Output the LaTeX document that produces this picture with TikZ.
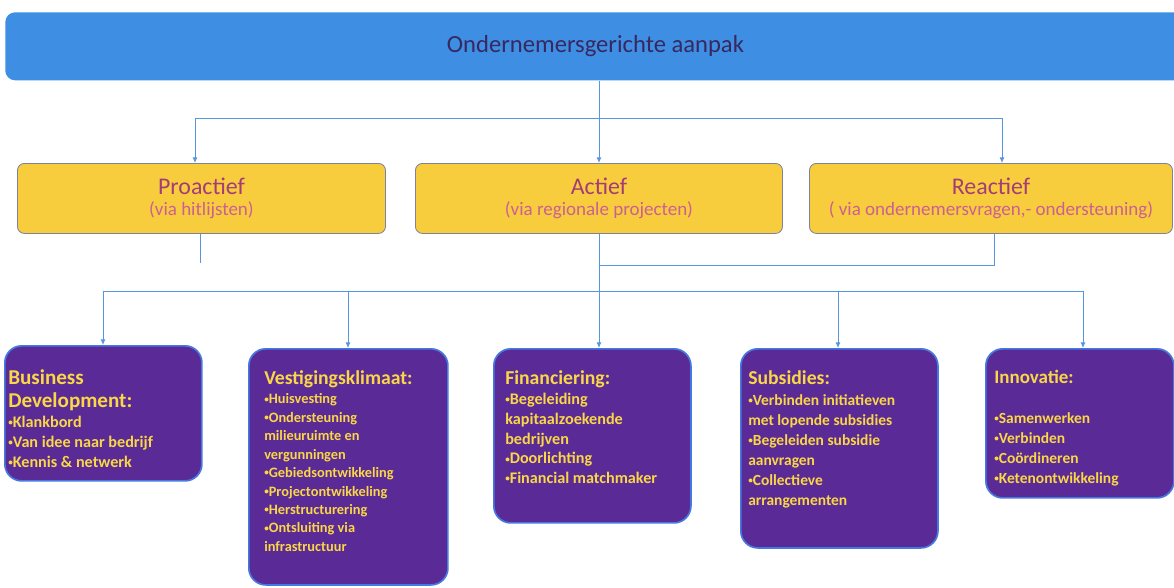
\documentclass[tikz,border=0pt]{standalone}
\usepackage{fontspec}
\setmainfont{Carlito}
\usetikzlibrary{arrows.meta, positioning}

\definecolor{barblue}{RGB}{62,143,228}
\definecolor{bartext}{RGB}{55,40,95}
\definecolor{ygold}{RGB}{247,205,62}
\definecolor{yedge}{RGB}{125,130,160}
\definecolor{ytitle}{RGB}{165,60,120}
\definecolor{ysub}{RGB}{205,95,145}
\definecolor{pfill}{RGB}{90,42,150}
\definecolor{pedge}{RGB}{70,120,225}
\definecolor{ptxt}{RGB}{250,215,70}
\definecolor{wireblue}{RGB}{85,150,220}

\newcommand\modetitle[1]{{\fontsize{17}{15.5}\selectfont\color{ytitle}#1}}
\newcommand\areatitle[2]{{\fontsize{#1}{14}\selectfont #2}}
\newcommand\bul{\raisebox{0.25ex}{\fontsize{6.5}{7}\selectfont\textbullet}}

\begin{document}
\begin{tikzpicture}[x=0.025cm, y=-0.025cm, >={Latex[length=4pt,width=3.5pt]},
        bar/.style={rectangle, fill=barblue, rounded corners=7pt, anchor=north west, minimum width=29.5cm, minimum height=1.7cm, text=bartext, font=\fontsize{17.5}{20}\selectfont},
        mode/.style={rectangle, draw=yedge, line width=0.6pt, fill=ygold, rounded corners=5pt, anchor=north west, minimum height=1.75cm, align=center, text=ysub, font=\fontsize{13.5}{15.5}\selectfont},
        area/.style={rectangle, draw=pedge, line width=1.2pt, fill=pfill, rounded corners=12pt, anchor=north west},
        areatext/.style={inner sep=0pt, align=left, text=ptxt, font=\bfseries\fontsize{11.5}{14.2}\selectfont},
        wire/.style={draw=wireblue, line width=0.6pt}]

        \useasboundingbox (0,0) rectangle (1174,587);

        % top level
        \node (top) [bar] at (5,12) {Ondernemersgerichte aanpak};

        % three ways of working
        \node (pro) [mode, minimum width=9.2cm] at (17,163) {\modetitle{Proactief}\\(via hitlijsten)};
        \node (act) [mode, minimum width=9.175cm] at (415,163) {\modetitle{Actief}\\(via regionale projecten)};
        \node (rea) [mode, minimum width=9.075cm] at (809,163) {\modetitle{Reactief}\\( via ondernemersvragen,- ondersteuning)};

        % themes
        \node (bd) [area, minimum width=4.925cm, minimum height=3.375cm] at (4,345) {};
        \node (vk) [area, minimum width=4.975cm, minimum height=5.9cm] at (248,348) {};
        \node (fin) [area, minimum width=4.925cm, minimum height=4.35cm] at (493,348) {};
        \node (sub) [area, minimum width=4.925cm, minimum height=4.975cm] at (740,348) {};
        \node (inn) [area, minimum width=4.7cm, minimum height=3.725cm] at (985,348) {};

        \node (bdtxt) [areatext, below right=0.6cm and 0.1cm of bd.north west]
            {\areatitle{15}{Business}\\[2.3pt]\areatitle{15}{Development:}\\\bul Klankbord\\\bul Van idee naar bedrijf\\\bul Kennis \& netwerk};
        \node (vktxt) [areatext, font=\bfseries\fontsize{10.2}{13.1}\selectfont, below right=0.55cm and 0.4cm of vk.north west]
            {\areatitle{14}{Vestigingsklimaat:}\\[1pt]\bul Huisvesting\\\bul Ondersteuning\\milieuruimte en\\vergunningen\\\bul Gebiedsontwikkeling\\\bul Projectontwikkeling\\\bul Herstructurering\\\bul Ontsluiting via\\infrastructuur};
        \node (fintxt) [areatext, below right=0.55cm and 0.3cm of fin.north west]
            {\areatitle{14}{Financiering:}\\\bul Begeleiding\\kapitaalzoekende\\bedrijven\\\bul Doorlichting\\\bul Financial matchmaker};
        \node (subtxt) [areatext, font=\bfseries\fontsize{11}{14.2}\selectfont, below right=0.55cm and 0.2cm of sub.north west]
            {\areatitle{14}{Subsidies:}\\[1pt]\bul Verbinden initiatieven\\met lopende subsidies\\\bul Begeleiden subsidie\\aanvragen\\\bul Collectieve\\arrangementen};
        \node (inntxt) [areatext, font=\bfseries\fontsize{11}{14.2}\selectfont, below right=0.55cm and 0.225cm of inn.north west]
            {\areatitle{13.5}{Innovatie:}\\[14.2pt]\bul Samenwerken\\\bul Verbinden\\\bul Coördineren\\\bul Ketenontwikkeling};

        % connectors from the top
        \coordinate (hub) at (599,118);
        \coordinate (pin) at (195,118);
        \coordinate (rin) at (1002,118);
        \draw[wire] (hub |- top.south) -- (hub);
        \draw[wire] (pin) -- (rin);
        \draw[wire, ->] (pin) -- (pin |- pro.north);
        \draw[wire, ->] (hub) -- (hub |- act.north);
        \draw[wire, ->] (rin) -- (rin |- rea.north);

        % connectors to the themes
        \coordinate (pend) at (200,263);
        \coordinate (rj) at (994,265);
        \draw[wire] (pend |- pro.south) -- (pend);
        \draw[wire] (rj |- rea.south) -- (rj) -- (rj -| act.south);
        \draw[wire, ->] (act.south) -- (act.south |- fin.north);
        \coordinate (b1) at (103,291);
        \coordinate (b2) at (348,291);
        \coordinate (b4) at (838,291);
        \coordinate (b5) at (1083,291);
        \draw[wire] (b1) -- (b5);
        \foreach \c/\n in {b1/bd, b2/vk, b4/sub, b5/inn}
            \draw[wire, ->] (\c) -- (\c |- \n.north);
    \end{tikzpicture}
\end{document}
